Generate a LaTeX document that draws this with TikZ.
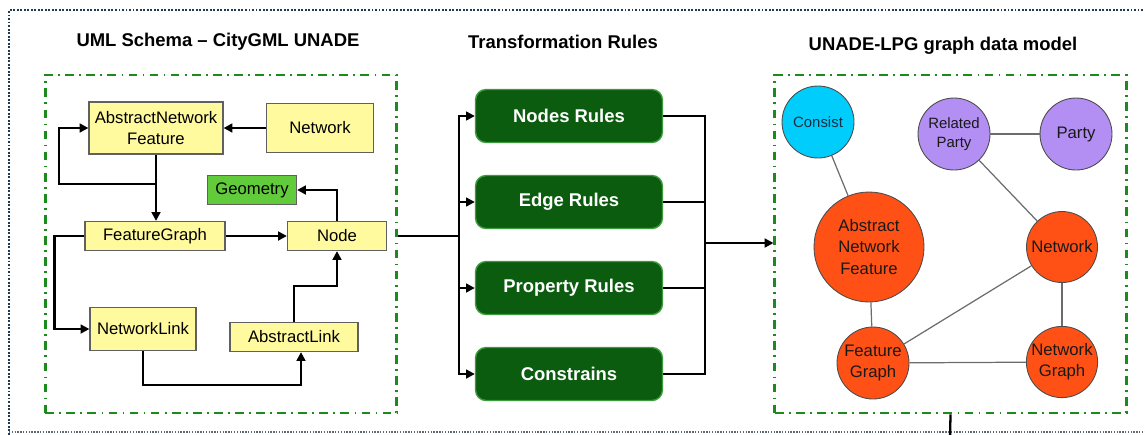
\documentclass[tikz,border=0pt]{standalone}
\usepackage{fontspec}
\setmainfont{Liberation Sans}
\usetikzlibrary{arrows.meta,positioning}
\definecolor{umlyellow}{HTML}{FFFA9E}
\definecolor{geogreen}{HTML}{62CB3C}
\definecolor{rulegreen}{HTML}{0B5C0E}
\definecolor{ruleedge}{HTML}{3C9C3C}
\definecolor{framegreen}{HTML}{1C8A1C}
\definecolor{outerblue}{HTML}{1F3A55}
\definecolor{lpgorange}{HTML}{FF5115}
\definecolor{lpgpurple}{HTML}{B38EF3}
\definecolor{lpgcyan}{HTML}{00CDFB}

\begin{document}
\begin{tikzpicture}[
  x=0.02cm, y=-0.02cm,
  every node/.style={align=center, font=\fontsize{9.5}{11.5}\selectfont},
  umlbox/.style={draw=gray!75!black, fill=umlyellow, line width=0.7pt, inner sep=0pt},
  rulebox/.style={draw=ruleedge, fill=rulegreen, line width=0.8pt, rounded corners=6pt,
    minimum width=3.74cm, minimum height=1.06cm, text=white, font=\fontsize{10.5}{12}\selectfont\bfseries},
  frame/.style={draw=framegreen, line width=1.5pt, dash pattern=on 5pt off 3pt on 1pt off 3pt,
    minimum width=7.03cm, minimum height=6.76cm, inner sep=0pt},
  lpgnode/.style={circle, draw=gray!60!black, line width=0.5pt, inner sep=0pt, text=black!90},
  title/.style={font=\fontsize{10.5}{12}\selectfont\bfseries},
  arrow/.style={-{Triangle[length=5pt,width=5pt]}, line width=1.3pt},
  link/.style={line width=1.3pt},
  edge/.style={draw=gray!85!black, line width=0.7pt}
]
\useasboundingbox (0,0) rectangle (1145,434);

% outer border
\draw[outerblue, line width=1.6pt, dash pattern=on 1.1pt off 0.9pt] (1150,10) -- (9,10) -- (9,440);
\draw[gray!70!outerblue, line width=0.6pt, dash pattern=on 0.8pt off 0.8pt] (9,432) -- (1150,432);

% titles
\node[title] (umltitle) at (218,42) {UML Schema -- CityGML UNADE};
\node[title] (ruletitle) at (563,42) {Transformation Rules};
\node[title] (lpgtitle) at (943,46) {UNADE-LPG graph data model};

% frames
\node[frame] (umlframe) at (221,244) {};
\node[frame] (lpgframe) at (950.5,244) {};

% UML schema
\node[umlbox, minimum width=2.68cm, minimum height=1.04cm] (anf) at (156,128) {AbstractNetwork\\Feature};
\node[umlbox, minimum width=2.14cm, minimum height=0.98cm] (network) at (320,128) {Network};
\node[umlbox, fill=geogreen, minimum width=1.78cm, minimum height=0.58cm] (geometry) at (252,190) {Geometry};
\node[umlbox, minimum width=2.8cm, minimum height=0.58cm] (featuregraph) at (155,236) {FeatureGraph};
\node[umlbox, minimum width=1.98cm, minimum height=0.58cm] (node) at (337,236) {Node};
\node[umlbox, minimum width=2.12cm, minimum height=0.86cm] (networklink) at (143,329) {NetworkLink};
\node[umlbox, minimum width=2.56cm, minimum height=0.58cm] (abstractlink) at (294,337) {AbstractLink};

\coordinate (split) at (156,184);
\draw[arrow] (network) -- (anf);
\draw[arrow] (anf.south) -- (anf.south |- featuregraph.north);
\draw[arrow] (split) -- ++(-97,0) |- (anf.west);
\draw[arrow] (featuregraph) -- (node);
\draw[arrow] (node.north) |- (geometry.east);
\draw[arrow] (featuregraph.west) -- ++(-30,0) |- (networklink.west);
\draw[arrow] (networklink.south) -- ++(0,34) -| ([xshift=0.14cm]abstractlink.south);
\draw[arrow] (abstractlink.north) -- ++(0,-36) -| (node.south);

% transformation rules
\node[rulebox] (nodesrules) at (569,116) {Nodes Rules};
\node[rulebox] (edgerules) at (569,202) {Edge Rules};
\node[rulebox] (propertyrules) at (569,288) {Property Rules};
\node[rulebox] (constrains) at (569,374) {Constrains};

\coordinate (busin) at (459,236);
\coordinate (busout) at (705,243);
\draw[link] (umlframe.east |- busin) -- (busin);
\foreach \r in {nodesrules,edgerules,propertyrules,constrains}{
  \draw[arrow] (busin) |- (\r.west);
  \draw[link] (\r.east) -| (busout);
}
\draw[arrow] (busout) -- (lpgframe.west |- busout);

% graph data model
\node[lpgnode, fill=lpgcyan, minimum size=1.44cm, text=outerblue!80!black,
  font=\fontsize{8.5}{10}\selectfont] (consist) at (818,122) {Consist};
\node[lpgnode, fill=lpgpurple, minimum size=1.44cm, font=\fontsize{8.5}{10.5}\selectfont] (relatedparty) at (954,134) {Related\\Party};
\node[lpgnode, fill=lpgpurple, minimum size=1.44cm] (party) at (1076,134) {Party};
\node[lpgnode, fill=lpgorange, minimum size=2.2cm, font=\fontsize{9.5}{12}\selectfont] (abstractfeature) at (869,247) {Abstract\\Network\\Feature};
\node[lpgnode, fill=lpgorange, minimum size=1.42cm] (networkn) at (1062,247) {Network};
\node[lpgnode, fill=lpgorange, minimum size=1.44cm, font=\fontsize{9.5}{12}\selectfont] (featuregraphn) at (873,363) {Feature\\Graph};
\node[lpgnode, fill=lpgorange, minimum size=1.42cm, font=\fontsize{9.5}{12}\selectfont] (networkgraph) at (1062,362) {Network\\Graph};

\draw[edge] (consist) -- (abstractfeature);
\draw[edge] (relatedparty) -- (party);
\draw[edge] (relatedparty) -- (networkn);
\draw[edge] (abstractfeature) -- (featuregraphn);
\draw[edge] (featuregraphn) -- (networkn);
\draw[edge] (featuregraphn) -- (networkgraph);
\draw[edge] (networkn) -- (networkgraph);

\coordinate (exit) at (950,440);
\draw[link] (lpgframe.south) -- (exit);
\end{tikzpicture}
\end{document}
